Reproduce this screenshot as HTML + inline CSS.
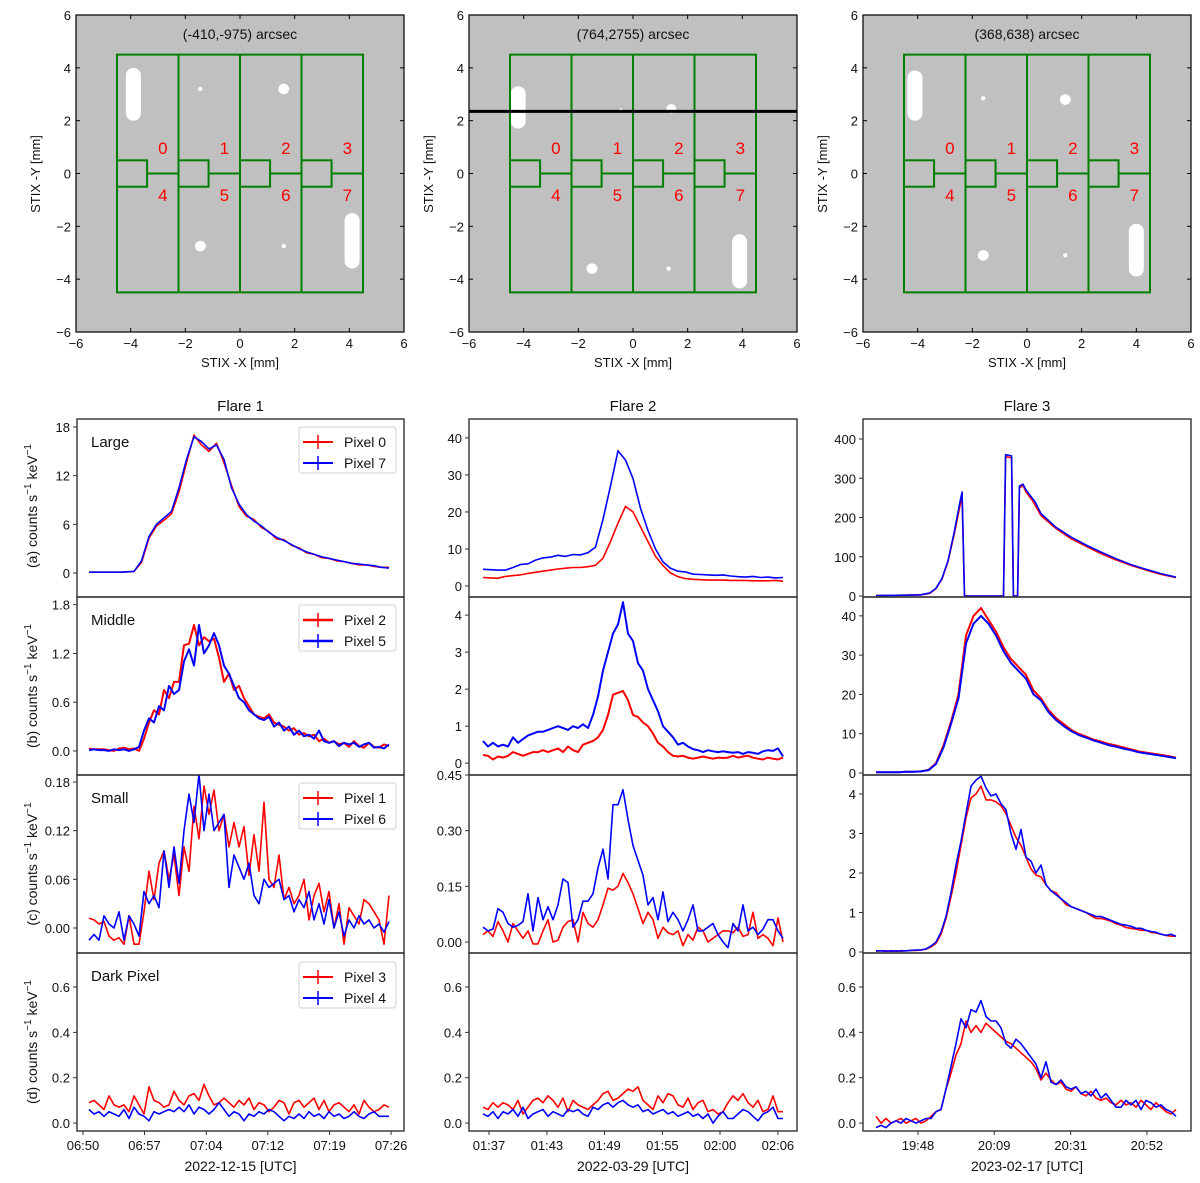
<!DOCTYPE html>
<html><head><meta charset="utf-8"><style>
html,body{margin:0;padding:0;background:#fff;}
svg{display:block;font-family:"Liberation Sans","DejaVu Sans",sans-serif;}
</style></head><body>
<svg id="fig" width="1200" height="1183" viewBox="0 0 1200 1183" xmlns="http://www.w3.org/2000/svg"></svg>
<script>
// ---------- DATA ----------
const pixelNumbersTop = ['0','1','2','3'];
const pixelNumbersBottom = ['4','5','6','7'];
const detTitles = ['(-410,-975) arcsec','(764,2755) arcsec','(368,638) arcsec'];
const flareTitles = ['Flare 1','Flare 2','Flare 3'];
const dateLabels = ['2022-12-15 [UTC]','2022-03-29 [UTC]','2023-02-17 [UTC]'];
const rowNames = ['Large','Middle','Small','Dark Pixel'];
const rowPrefixes = ['(a)','(b)','(c)','(d)'];
const legendRed = ['Pixel 0','Pixel 2','Pixel 1','Pixel 3'];
const legendBlue = ['Pixel 7','Pixel 5','Pixel 6','Pixel 4'];

const f1XTicks = [-0.02,0.185,0.391,0.596,0.802,1.007];
const f1XLabels = ['06:50','06:57','07:04','07:12','07:19','07:26'];
const f2XTicks = [0.02,0.213,0.405,0.598,0.79,0.983];
const f2XLabels = ['01:37','01:43','01:49','01:55','02:00','02:06'];
const f3XTicks = [0.14,0.394,0.649,0.903];
const f3XLabels = ['19:48','20:09','20:31','20:52'];

const ticksA1=[0,6,12,18], labA1=['0','6','12','18'];
const ticksB1=[0,0.6,1.2,1.8], labB1=['0.0','0.6','1.2','1.8'];
const ticksC1=[0,0.06,0.12,0.18], labC1=['0.00','0.06','0.12','0.18'];
const ticksD=[0,0.2,0.4,0.6], labD=['0.0','0.2','0.4','0.6'];
const ticksA2=[0,10,20,30,40], labA2=['0','10','20','30','40'];
const ticksB2=[0,1,2,3,4], labB2=['0','1','2','3','4'];
const ticksC2=[0,0.15,0.30,0.45], labC2=['0.00','0.15','0.30','0.45'];
const ticksA3=[0,100,200,300,400], labA3=['0','100','200','300','400'];
const ticksB3=[0,10,20,30,40], labB3=['0','10','20','30','40'];
const ticksC3=[0,1,2,3,4], labC3=['0','1','2','3','4'];

const f1aBlue=[0.1,0.1,0.1,0.1,0.1,0.15,0.2,1.5,4.5,6.0,6.8,7.6,10.5,14.0,16.8,16.2,15.3,15.8,14.0,10.5,8.5,7.2,6.4,5.8,5.0,4.4,4.0,3.5,3.0,2.6,2.3,2.0,1.8,1.6,1.4,1.2,1.1,1.0,0.9,0.7,0.6];
const f1aRed=[0.1,0.1,0.1,0.1,0.1,0.12,0.2,1.3,4.3,5.8,6.5,7.3,10.0,13.6,17.0,15.8,15.0,16.0,13.6,10.8,8.2,7.0,6.6,5.6,5.1,4.2,4.1,3.4,3.1,2.5,2.3,1.9,1.8,1.5,1.4,1.2,1.0,1.0,0.8,0.7,0.7];
const f1bRed=[0.03,0.02,0.02,0.02,0.01,0.0,0.03,0.04,0.02,0.03,0.0,0.15,0.35,0.5,0.45,0.75,0.65,0.85,0.85,1.3,1.32,1.55,1.3,1.4,1.35,1.38,1.15,0.85,0.95,0.75,0.8,0.65,0.55,0.45,0.42,0.4,0.45,0.35,0.32,0.3,0.25,0.28,0.2,0.22,0.18,0.2,0.12,0.15,0.1,0.12,0.08,0.1,0.05,0.12,0.06,0.04,0.1,0.05,0.04,0.08,0.06];
const f1bBlue=[0.01,0.02,0.01,0.01,0.0,0.02,0.01,0.02,0.0,0.02,0.05,0.25,0.4,0.35,0.55,0.5,0.8,0.7,0.75,1.1,1.25,1.05,1.55,1.2,1.3,1.45,1.3,1.05,0.95,0.8,0.65,0.6,0.5,0.45,0.4,0.38,0.42,0.3,0.35,0.25,0.3,0.2,0.25,0.18,0.2,0.15,0.25,0.12,0.1,0.12,0.06,0.1,0.08,0.1,0.05,0.08,0.1,0.04,0.05,0.03,0.08];
const f1cRed=[0.012,0.01,0.005,0.008,-0.01,-0.015,-0.012,-0.02,0.015,-0.02,-0.02,0.02,0.07,0.035,0.08,0.095,0.06,0.09,0.04,0.1,0.07,0.15,0.11,0.175,0.14,0.17,0.12,0.14,0.1,0.13,0.1,0.125,0.065,0.115,0.07,0.155,0.06,0.05,0.09,0.035,0.05,0.03,0.04,0.06,0.01,0.04,0.055,0.02,0.045,0.0,0.03,-0.02,0.025,0.015,0.005,0.035,0.03,0.02,0.01,-0.02,0.04];
const f1cBlue=[-0.015,-0.008,-0.015,0.015,0.005,0.0,0.02,-0.015,0.015,0.005,-0.01,0.045,0.03,0.04,0.025,0.095,0.05,0.1,0.055,0.12,0.165,0.13,0.19,0.12,0.165,0.12,0.13,0.14,0.05,0.09,0.075,0.06,0.08,0.04,0.03,0.06,0.05,0.055,0.06,0.035,0.04,0.02,0.035,0.025,0.045,0.01,0.03,0.005,0.035,0.0,0.02,-0.01,0.01,0.0,0.015,0.005,0.01,0.0,0.005,-0.005,0.008];
const f1dRed=[0.09,0.1,0.08,0.06,0.12,0.08,0.07,0.08,0.05,0.12,0.08,0.04,0.16,0.1,0.09,0.07,0.08,0.14,0.1,0.08,0.12,0.13,0.1,0.17,0.12,0.08,0.09,0.11,0.09,0.07,0.1,0.08,0.11,0.06,0.09,0.08,0.05,0.07,0.1,0.09,0.04,0.09,0.1,0.07,0.09,0.11,0.06,0.1,0.05,0.08,0.09,0.07,0.05,0.08,0.04,0.1,0.07,0.05,0.06,0.08,0.07];
const f1dBlue=[0.06,0.04,0.05,0.03,0.05,0.04,0.03,0.06,0.02,0.07,0.04,0.03,0.01,0.05,0.04,0.05,0.06,0.05,0.07,0.05,0.08,0.04,0.07,0.06,0.04,0.06,0.09,0.06,0.03,0.05,0.04,0.01,0.04,0.03,0.05,0.04,0.06,0.05,0.03,0.01,0.03,0.02,0.04,0.02,0.05,0.03,0.04,0.02,0.05,0.03,0.04,0.02,0.03,0.05,0.03,0.02,0.04,0.05,0.03,0.03,0.03];

const f2aBlue=[4.5,4.4,4.3,4.3,5,5.8,6,7,7.6,7.8,8.3,8.0,8.5,8.4,9.0,10.5,18,27,36.5,34,29,21,15,10,6.5,4.8,4,3.8,3.2,3.1,3.0,2.9,3.0,2.7,2.5,2.4,2.6,2.3,2.4,2.2,2.3];
const f2aRed=[2.3,2.2,2.1,2.6,2.8,3.0,3.4,3.7,4.0,4.3,4.6,4.8,5.0,5.0,5.2,5.6,7.5,12,17,21.5,20,16,12,8,5.5,3.5,2.5,2.0,1.8,1.7,1.6,1.6,1.6,1.5,1.5,1.5,1.4,1.4,1.4,1.5,1.3];
const f2bBlue=[0.6,0.45,0.55,0.45,0.5,0.45,0.7,0.55,0.65,0.75,0.8,0.85,0.85,0.9,0.95,1.0,0.95,0.9,1.0,0.95,1.05,0.95,1.3,1.8,2.5,3.0,3.5,3.75,4.35,3.5,3.3,2.7,2.5,2.0,1.7,1.4,1.0,0.85,0.7,0.5,0.55,0.45,0.38,0.35,0.3,0.35,0.32,0.3,0.32,0.3,0.28,0.3,0.25,0.3,0.28,0.25,0.32,0.35,0.33,0.4,0.18];
const f2bRed=[0.22,0.2,0.1,0.18,0.15,0.2,0.3,0.25,0.2,0.25,0.3,0.3,0.35,0.3,0.35,0.4,0.3,0.45,0.35,0.3,0.5,0.55,0.6,0.7,0.9,1.3,1.85,1.9,1.95,1.7,1.3,1.25,1.1,1.0,0.8,0.55,0.45,0.3,0.2,0.18,0.2,0.15,0.12,0.15,0.18,0.15,0.12,0.15,0.14,0.15,0.2,0.15,0.18,0.2,0.15,0.12,0.1,0.15,0.12,0.1,0.15];
const f2cBlue=[0.04,0.03,0.035,0.09,0.08,0.05,0.04,0.045,0.055,0.13,0.03,0.12,0.06,0.095,0.06,0.1,0.17,0.16,0.04,0.06,0.11,0.11,0.13,0.2,0.25,0.17,0.37,0.37,0.41,0.33,0.26,0.22,0.18,0.1,0.12,0.06,0.135,0.055,0.08,0.06,0.03,0.06,0.1,0.03,0.03,0.04,0.05,0.02,0.0,-0.015,0.05,0.03,0.1,0.03,0.04,0.02,0.035,0.06,0.06,0.03,0.01];
const f2cRed=[0.02,0.03,0.015,0.055,0.03,0.0,0.05,0.03,0.01,0.03,-0.005,-0.005,0.03,0.06,0.0,0.005,0.04,0.055,0.06,0.0,0.08,0.05,0.04,0.06,0.1,0.145,0.14,0.15,0.185,0.16,0.13,0.09,0.05,0.08,0.06,0.01,0.04,0.025,0.02,0.03,-0.01,0.02,0.005,0.04,0.03,0.0,0.01,0.02,0.03,0.03,0.025,0.04,0.015,0.02,0.08,0.01,0.02,0.01,-0.01,0.065,0.0];
const f2dRed=[0.07,0.06,0.09,0.07,0.09,0.08,0.06,0.1,0.04,0.07,0.1,0.11,0.09,0.12,0.1,0.07,0.11,0.05,0.1,0.08,0.07,0.06,0.08,0.1,0.13,0.14,0.1,0.11,0.13,0.15,0.14,0.16,0.1,0.08,0.06,0.12,0.09,0.13,0.12,0.08,0.07,0.11,0.06,0.09,0.1,0.05,0.06,0.04,0.05,0.09,0.12,0.1,0.13,0.09,0.07,0.1,0.05,0.06,0.12,0.05,0.05];
const f2dBlue=[0.04,0.03,0.05,0.02,0.05,0.04,0.06,0.03,0.07,0.02,0.04,0.05,0.06,0.03,0.05,0.04,0.03,0.06,0.05,0.06,0.04,0.03,0.07,0.06,0.08,0.09,0.07,0.09,0.1,0.08,0.07,0.08,0.05,0.06,0.04,0.05,0.06,0.04,0.05,0.03,0.04,0.05,0.03,0.04,0.02,0.04,0.0,0.03,0.05,0.02,0.02,0.04,0.06,0.05,0.03,0.01,0.04,0.05,0.07,0.02,0.02];

const f3aTimes=[0,0.1,0.15,0.18,0.2,0.22,0.24,0.26,0.28,0.287,0.295,0.425,0.432,0.452,0.458,0.472,0.478,0.49,0.5,0.52,0.53,0.55,0.6,0.65,0.7,0.75,0.8,0.85,0.9,0.95,1];
const f3aBlue=[1,2,3,8,20,45,90,160,240,265,0,0,360,357,0,0,280,285,270,250,240,210,175,150,130,112,95,80,68,57,48];
const f3aRed=[1,2,3,7,19,43,88,155,230,250,0,0,355,352,0,0,275,282,265,245,232,205,172,146,127,108,92,78,66,55,47];
const f3bRed=[0.2,0.2,0.2,0.2,0.3,0.3,0.4,0.8,2.5,7,13,20,35,40,42,39,36,32,29,27,25,21,19,16,14,12.5,11,10,9.3,8.5,8,7.4,7,6.5,6,5.5,5.2,4.9,4.6,4.3,3.9];
const f3bBlue=[0.2,0.2,0.2,0.2,0.3,0.3,0.4,0.7,2.3,6.5,12.5,19,33,38,40,38,35,31,28,26,24,20,18.5,15.5,13.5,12,10.7,9.7,9,8.3,7.7,7.1,6.7,6.2,5.8,5.3,5.0,4.7,4.4,4.1,3.8];
const f3cBlue=[0.03,0.03,0.02,0.03,0.02,0.03,0.03,0.04,0.05,0.05,0.08,0.15,0.25,0.5,0.9,1.5,2.2,2.8,3.5,4.2,4.35,4.45,4.15,3.95,4.0,3.75,3.6,3.0,2.6,3.1,2.4,2.3,2.0,2.2,1.7,1.55,1.45,1.35,1.25,1.15,1.1,1.05,1.0,0.95,0.9,0.9,0.85,0.8,0.75,0.7,0.68,0.65,0.6,0.6,0.55,0.52,0.5,0.45,0.42,0.45,0.4];
const f3cRed=[0.02,0.03,0.03,0.02,0.03,0.02,0.03,0.04,0.04,0.05,0.07,0.13,0.22,0.45,0.85,1.4,2.0,2.7,3.4,3.9,4.0,4.2,3.85,3.85,3.8,3.7,3.5,3.2,2.9,2.7,2.4,2.1,1.95,1.9,1.7,1.55,1.5,1.35,1.2,1.15,1.1,1.05,1.0,0.92,0.85,0.85,0.82,0.78,0.72,0.68,0.62,0.6,0.58,0.55,0.55,0.5,0.48,0.45,0.42,0.4,0.4];
const f3dBlue=[-0.02,-0.01,-0.02,0.0,0.01,0.0,0.02,0.01,0.0,0.01,0.02,0.02,0.05,0.06,0.15,0.25,0.35,0.46,0.42,0.5,0.49,0.54,0.47,0.45,0.45,0.42,0.35,0.33,0.37,0.35,0.32,0.29,0.26,0.2,0.27,0.18,0.17,0.19,0.16,0.15,0.16,0.13,0.14,0.12,0.15,0.11,0.13,0.1,0.07,0.07,0.1,0.08,0.1,0.06,0.1,0.09,0.07,0.08,0.06,0.05,0.03];
const f3dRed=[0.03,0.0,0.02,0.0,0.01,0.02,0.0,0.01,0.02,0.0,0.01,0.03,0.05,0.06,0.15,0.22,0.3,0.35,0.45,0.4,0.43,0.4,0.44,0.42,0.4,0.38,0.36,0.35,0.33,0.31,0.29,0.27,0.24,0.19,0.22,0.19,0.17,0.18,0.15,0.14,0.16,0.13,0.12,0.14,0.11,0.1,0.11,0.09,0.08,0.1,0.08,0.09,0.07,0.1,0.08,0.06,0.09,0.07,0.05,0.04,0.06];

// ---------- HELPERS ----------
const NS='http://www.w3.org/2000/svg';
const svg=document.getElementById('fig');
function el(tag,attrs,parent,text){
  const e=document.createElementNS(NS,tag);
  for(const k in attrs) e.setAttribute(k,attrs[k]);
  if(text!==undefined) e.textContent=text;
  (parent||svg).appendChild(e);
  return e;
}
function scale(d0,d1,p0,p1){return v=>p0+(v-d0)*(p1-p0)/(d1-d0);}
function fmtNeg(v){return v<0?'\u2212'+Math.abs(v):String(v);}

// ---------- TOP DETECTOR PANELS ----------
const topCols=[[76,404],[469,797],[863,1191]];
const blobs=[
  [{x:-3.9,y0:2.0,y1:4.0,w:0.55},{x:-1.45,y:3.2,r:0.08},{x:1.6,y:3.2,r:0.2},{x:-1.45,y:-2.75,r:0.2},{x:1.6,y:-2.75,r:0.08},{x:4.1,y0:-3.6,y1:-1.5,w:0.55}],
  [{x:-4.2,y0:1.7,y1:3.3,w:0.55},{x:-0.45,y:2.4,r:0.06},{x:1.4,y:2.45,r:0.18},{x:-1.5,y:-3.6,r:0.2},{x:1.3,y:-3.6,r:0.08},{x:3.9,y0:-4.35,y1:-2.3,w:0.55}],
  [{x:-4.1,y0:2.0,y1:3.9,w:0.55},{x:-1.6,y:2.85,r:0.08},{x:1.4,y:2.8,r:0.2},{x:-1.6,y:-3.1,r:0.2},{x:1.4,y:-3.1,r:0.08},{x:4.0,y0:-3.9,y1:-1.9,w:0.55}]
];
topCols.forEach((c,pi)=>{
  const g=el('g',{});
  
  
  const X=scale(-6,6,c[0],c[1]), Y=scale(-6,6,332,15);
  el('rect',{x:c[0],y:15,width:c[1]-c[0],height:317,fill:'#c0c0c0'},g);
  // blobs
  blobs[pi].forEach(b=>{
    if(b.r!==undefined){
      const e=el('ellipse',{cx:X(b.x),cy:Y(b.y),rx:b.r*27.3,ry:b.r*26.4,fill:'#fff'},g);
      
      
    } else {
      const w=b.w*27.3;
      const e=el('rect',{x:X(b.x)-w/2,y:Y(b.y1),width:w,height:Y(b.y0)-Y(b.y1),rx:w/2,ry:w/2,fill:'#fff'},g);
      
      
    }
  });
  // pixel grid
  const gs={fill:'none',stroke:'#007f00','stroke-width':2};
  el('rect',Object.assign({x:X(-4.5),y:Y(4.5),width:X(4.5)-X(-4.5),height:Y(-4.5)-Y(4.5)},gs),g);
  [-2.25,0,2.25].forEach(v=>el('line',Object.assign({x1:X(v),x2:X(v),y1:Y(4.5),y2:Y(-4.5)},gs),g));
  for(let k=0;k<4;k++){
    const x0=-4.5+2.25*k;
    el('rect',Object.assign({x:X(x0),y:Y(0.5),width:X(x0+1.1)-X(x0),height:Y(-0.5)-Y(0.5)},gs),g);
    el('line',Object.assign({x1:X(x0+1.1),x2:X(x0+2.25),y1:Y(0),y2:Y(0)},gs),g);
    const t1=el('text',{x:X(x0+1.68),y:Y(0.96)+6,fill:'#ff0000','font-size':17,'text-anchor':'middle'},g,pixelNumbersTop[k]);
    
    
    const t2=el('text',{x:X(x0+1.68),y:Y(-0.82)+6,fill:'#ff0000','font-size':17,'text-anchor':'middle'},g,pixelNumbersBottom[k]);
    
    
  }
  if(pi===1){
    const bl=el('line',{x1:c[0],x2:c[1],y1:Y(2.35),y2:Y(2.35),stroke:'#000','stroke-width':3},g);
    
    
  }
  const tt=el('text',{x:(c[0]+c[1])/2,y:39,'font-size':14,'text-anchor':'middle',fill:'#111'},g,detTitles[pi]);
  
  
  el('rect',{x:c[0],y:15,width:c[1]-c[0],height:317,fill:'none',stroke:'#000','stroke-width':1.2},g);
  [-6,-4,-2,0,2,4,6].forEach(v=>{
    el('line',{x1:X(v),x2:X(v),y1:332,y2:328,stroke:'#000'},g);
    el('line',{x1:X(v),x2:X(v),y1:15,y2:19,stroke:'#000'},g);
    el('line',{x1:c[0],x2:c[0]+4,y1:Y(v),y2:Y(v),stroke:'#000'},g);
    el('line',{x1:c[1],x2:c[1]-4,y1:Y(v),y2:Y(v),stroke:'#000'},g);
    const xl=el('text',{x:X(v),y:348,'font-size':13,'text-anchor':'middle',fill:'#111'},g,fmtNeg(v));
    
    
    const yl=el('text',{x:c[0]-5,y:Y(v)+5,'font-size':13,'text-anchor':'end',fill:'#111'},g,fmtNeg(v));
    
    
  });
  const xt=el('text',{x:(c[0]+c[1])/2,y:367,'font-size':13,'text-anchor':'middle',fill:'#111'},g,'STIX -X [mm]');
  
  
  const yx=c[0]-36, yy=174;
  const yt=el('text',{x:yx,y:yy,'font-size':13,'text-anchor':'middle',fill:'#111',transform:'rotate(-90 '+yx+' '+yy+')'},g,'STIX -Y [mm]');
  
  
});

// ---------- LIGHT CURVES ----------
const cols=[{x0:77,x1:404,d0:89,d1:389},{x0:469,x1:797,d0:483,d1:783},{x0:863,x1:1191,d0:876,d1:1176}];
const rowY=[419,597,775,953,1131];
const panels=[
 [{lim:[-2.96,18.99],tk:ticksA1,tl:labA1,r:f1aRed,b:f1aBlue},{lim:[-0.296,1.894],tk:ticksB1,tl:labB1,r:f1bRed,b:f1bBlue},{lim:[-0.0308,0.1886],tk:ticksC1,tl:labC1,r:f1cRed,b:f1cBlue},{lim:[-0.035,0.75],tk:ticksD,tl:labD,r:f1dRed,b:f1dBlue}],
 [{lim:[-2.97,45.1],tk:ticksA2,tl:labA2,r:f2aRed,b:f2aBlue},{lim:[-0.32,4.49],tk:ticksB2,tl:labB2,r:f2bRed,b:f2bBlue},{lim:[-0.0296,0.45],tk:ticksC2,tl:labC2,r:f2cRed,b:f2cBlue},{lim:[-0.035,0.75],tk:ticksD,tl:labD,r:f2dRed,b:f2dBlue}],
 [{lim:[-2.5,451],tk:ticksA3,tl:labA3,r:f3aRed,b:f3aBlue,t:f3aTimes},{lim:[-0.51,44.8],tk:ticksB3,tl:labB3,r:f3bRed,b:f3bBlue},{lim:[-0.025,4.48],tk:ticksC3,tl:labC3,r:f3cRed,b:f3cBlue},{lim:[-0.035,0.75],tk:ticksD,tl:labD,r:f3dRed,b:f3dBlue}]
];
const xTicks=[f1XTicks,f2XTicks,f3XTicks], xLabels=[f1XLabels,f2XLabels,f3XLabels];

function pathFor(vals,times,X,Y){
  let d='';
  vals.forEach((v,i)=>{
    const t=times?times[i]:i/(vals.length-1);
    d+=(i?'L':'M')+X(t).toFixed(1)+','+Y(v).toFixed(1);
  });
  return d;
}

cols.forEach((c,ci)=>{
  const X=scale(0,1,c.d0,c.d1);
  const ft=el('text',{x:(c.x0+c.x1)/2,y:411,'font-size':15,'text-anchor':'middle',fill:'#111'},svg,flareTitles[ci]);
  
  
  panels[ci].forEach((p,ri)=>{
    const top=rowY[ri], bot=rowY[ri+1];
    const g=el('g',{});
    
    
    const Y=scale(p.lim[0],p.lim[1],bot,top);
    const cid='clip'+ci+ri;
    const cp=el('clipPath',{id:cid},g);
    el('rect',{x:c.x0,y:top,width:c.x1-c.x0,height:bot-top},cp);
    const lw=ri===1?2:1.6;
    const rp=el('path',{d:pathFor(p.r,p.t,X,Y),fill:'none',stroke:'#ff0000','stroke-width':lw,'stroke-linejoin':'round','clip-path':'url(#'+cid+')'},g);
    
    
    const bp=el('path',{d:pathFor(p.b,p.t,X,Y),fill:'none',stroke:'#0000ff','stroke-width':lw,'stroke-linejoin':'round','clip-path':'url(#'+cid+')'},g);
    
    
    el('rect',{x:c.x0,y:top,width:c.x1-c.x0,height:bot-top,fill:'none',stroke:'#333','stroke-width':1.4},g);
    p.tk.forEach((v,k)=>{
      const y=Y(v);
      el('line',{x1:c.x0,x2:c.x0-4,y1:y,y2:y,stroke:'#333'},g);
      const tl=el('text',{x:c.x0-7,y:y+5,'font-size':13,'text-anchor':'end',fill:'#111'},g,p.tl[k]);
      
      
    });
    if(ci===0){
      const lab=el('text',{x:91,y:top+28,'font-size':15,fill:'#111'},g,rowNames[ri]);
      
      
      // legend
      const lg=el('g',{},g);
      
      
      const ly=top+(ri===3?9:8);
      el('rect',{x:299,y:ly,width:97,height:46,rx:3,fill:'#fff',stroke:'#d0d0d0'},lg);
      [[legendRed[ri],'#ff0000',ly+15],[legendBlue[ri],'#0000ff',ly+36]].forEach(e=>{
        const en=el('g',{},lg);
        
        
        el('line',{x1:303,x2:333,y1:e[2],y2:e[2],stroke:e[1],'stroke-width':lw+0.4},en);
        el('line',{x1:318,x2:318,y1:e[2]-7,y2:e[2]+7,stroke:e[1],'stroke-width':1.5},en);
        el('text',{x:344,y:e[2]+5,'font-size':14,fill:'#111'},en,e[0]);
      });
      // y label
      const yx=37, yy=(top+bot)/2+ (ri===0?-2:0);
      const yl=el('text',{x:yx,y:yy,'font-size':14,'text-anchor':'middle',fill:'#111',transform:'rotate(-90 '+yx+' '+yy+')'},g);
      
      
      const s1=el('tspan',{},yl,rowPrefixes[ri]+' counts s');
      el('tspan',{dy:-6,'font-size':10},yl,'\u22121');
      el('tspan',{dy:6},yl,' keV');
      el('tspan',{dy:-6,'font-size':10},yl,'\u22121');
    }
    if(ri===3){
      xTicks[ci].forEach((t,k)=>{
        const x=X(t);
        el('line',{x1:x,x2:x,y1:bot,y2:bot+4,stroke:'#333'},g);
        const xl=el('text',{x:x,y:bot+19,'font-size':13,'text-anchor':'middle',fill:'#111'},g,xLabels[ci][k]);
        
        
      });
      const dl=el('text',{x:(c.x0+c.x1)/2,y:bot+40,'font-size':14,'text-anchor':'middle',fill:'#111'},g,dateLabels[ci]);
      
      
    }
  });
});
</script>
</body></html>
